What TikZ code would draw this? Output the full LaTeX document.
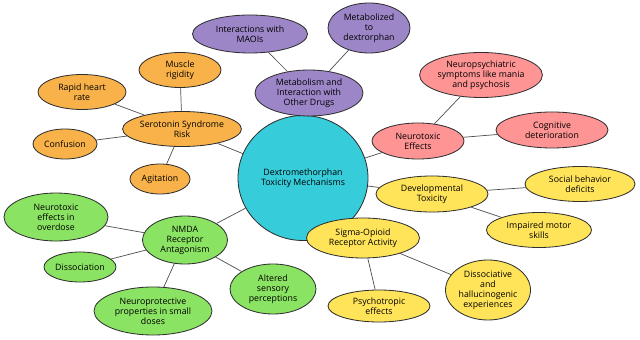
\documentclass[tikz,border=0pt]{standalone}
\usepackage{fontspec}
\setmainfont{Open Sans}
\usepackage{tikz}
\usetikzlibrary{shapes.geometric}
\definecolor{hubcyan}{HTML}{36CCDA}
\definecolor{sero}{HTML}{F9B24A}
\definecolor{metab}{HTML}{9D86C8}
\definecolor{neuro}{HTML}{FF9494}
\definecolor{devel}{HTML}{FFE45A}
\definecolor{nmda}{HTML}{8BE363}
\definecolor{inkline}{HTML}{2E2E2E}
\tikzset{
  bubble/.style={ellipse, draw=inkline, line width=0.7pt, fill=#1, inner sep=0pt, align=center},
  link/.style={draw=inkline!85, line width=0.6pt}
}

\begin{document}
\begin{tikzpicture}[x=0.3mm, y=-0.3mm, font=\fontsize{7.5}{8.6}\selectfont]
  \useasboundingbox (0,0) rectangle (640,340);
  \fill[white] (0,0) rectangle (640,340);

  % hub
  \node[bubble=hubcyan, minimum width=39mm, minimum height=37.5mm] (hub) at (303,178) {Dextromethorphan\\Toxicity Mechanisms};

  % serotonin branch
  \node[bubble=sero, minimum width=35.4mm, minimum height=10.5mm] (ser) at (182,129) {Serotonin Syndrome\\Risk};
  \node[bubble=sero, minimum width=24.6mm, minimum height=10.5mm] (musc) at (180,70) {Muscle\\rigidity};
  \node[bubble=sero, minimum width=26.4mm, minimum height=10.5mm] (heart) at (82,92) {Rapid heart\\rate};
  \node[bubble=sero, minimum width=19.2mm, minimum height=9mm] (conf) at (65,144) {Confusion};
  \node[bubble=sero, minimum width=18mm, minimum height=9mm] (agit) at (160,179) {Agitation};

  % metabolism branch
  \node[bubble=metab, minimum width=32.4mm, minimum height=13.8mm] (met) at (309,93) {Metabolism and\\Interaction with\\Other Drugs};
  \node[bubble=metab, minimum width=34.5mm, minimum height=11.4mm] (maoi) at (250,34) {Interactions with\\MAOIs};
  \node[bubble=metab, minimum width=24.6mm, minimum height=15mm] (dxo) at (369,28) {Metabolized\\to\\dextrorphan};

  % neurotoxic branch
  \node[bubble=neuro, minimum width=27.6mm, minimum height=10.8mm] (ntx) at (418,141) {Neurotoxic\\Effects};
  \node[bubble=neuro, minimum width=36.6mm, minimum height=13.5mm] (npsy) at (481,75) {Neuropsychiatric\\symptoms like mania\\and psychosis};
  \node[bubble=neuro, minimum width=33.6mm, minimum height=10.8mm] (cogn) at (552,130) {Cognitive\\deterioration};

  % developmental branch
  \node[bubble=devel, minimum width=33.6mm, minimum height=10.8mm] (dev) at (432,194) {Developmental\\Toxicity};
  \node[bubble=devel, minimum width=33mm, minimum height=10.5mm] (soc) at (580,184) {Social behavior\\deficits};
  \node[bubble=devel, minimum width=31.5mm, minimum height=10.5mm] (motor) at (539,230) {Impaired motor\\skills};

  % sigma branch
  \node[bubble=devel, minimum width=33.9mm, minimum height=12mm] (sig) at (363,238) {Sigma-Opioid\\Receptor Activity};
  \node[bubble=devel, minimum width=30.6mm, minimum height=9.6mm] (psy) at (379,306) {Psychotropic\\effects};
  \node[bubble=devel, minimum width=25.5mm, minimum height=18mm] (dhe) at (488,290) {Dissociative\\and\\hallucinogenic\\experiences};

  % NMDA branch
  \node[bubble=nmda, minimum width=25.5mm, minimum height=14.4mm] (nmd) at (185,240) {NMDA\\Receptor\\Antagonism};
  \node[bubble=nmda, minimum width=31.2mm, minimum height=14.4mm] (ovd) at (56,217) {Neurotoxic\\effects in\\overdose};
  \node[bubble=nmda, minimum width=21.6mm, minimum height=9mm] (dsc) at (80,267) {Dissociation};
  \node[bubble=nmda, minimum width=35.4mm, minimum height=14.4mm] (prot) at (153,311) {Neuroprotective\\properties in small\\doses};
  \node[bubble=nmda, minimum width=25.8mm, minimum height=15mm] (alt) at (273,289) {Altered\\sensory\\perceptions};

  % connectors
  \foreach \a/\b in {hub/ser, hub/met, hub/ntx, hub/dev, hub/nmd,
                     ser/musc, ser/heart, ser/conf, ser/agit,
                     met/maoi, met/dxo, ntx/npsy, ntx/cogn,
                     dev/soc, dev/motor, sig/psy, sig/dhe,
                     nmd/ovd, nmd/dsc, nmd/prot, nmd/alt} {
    \draw[link] (\a) -- (\b);
  }
\end{tikzpicture}
\end{document}
